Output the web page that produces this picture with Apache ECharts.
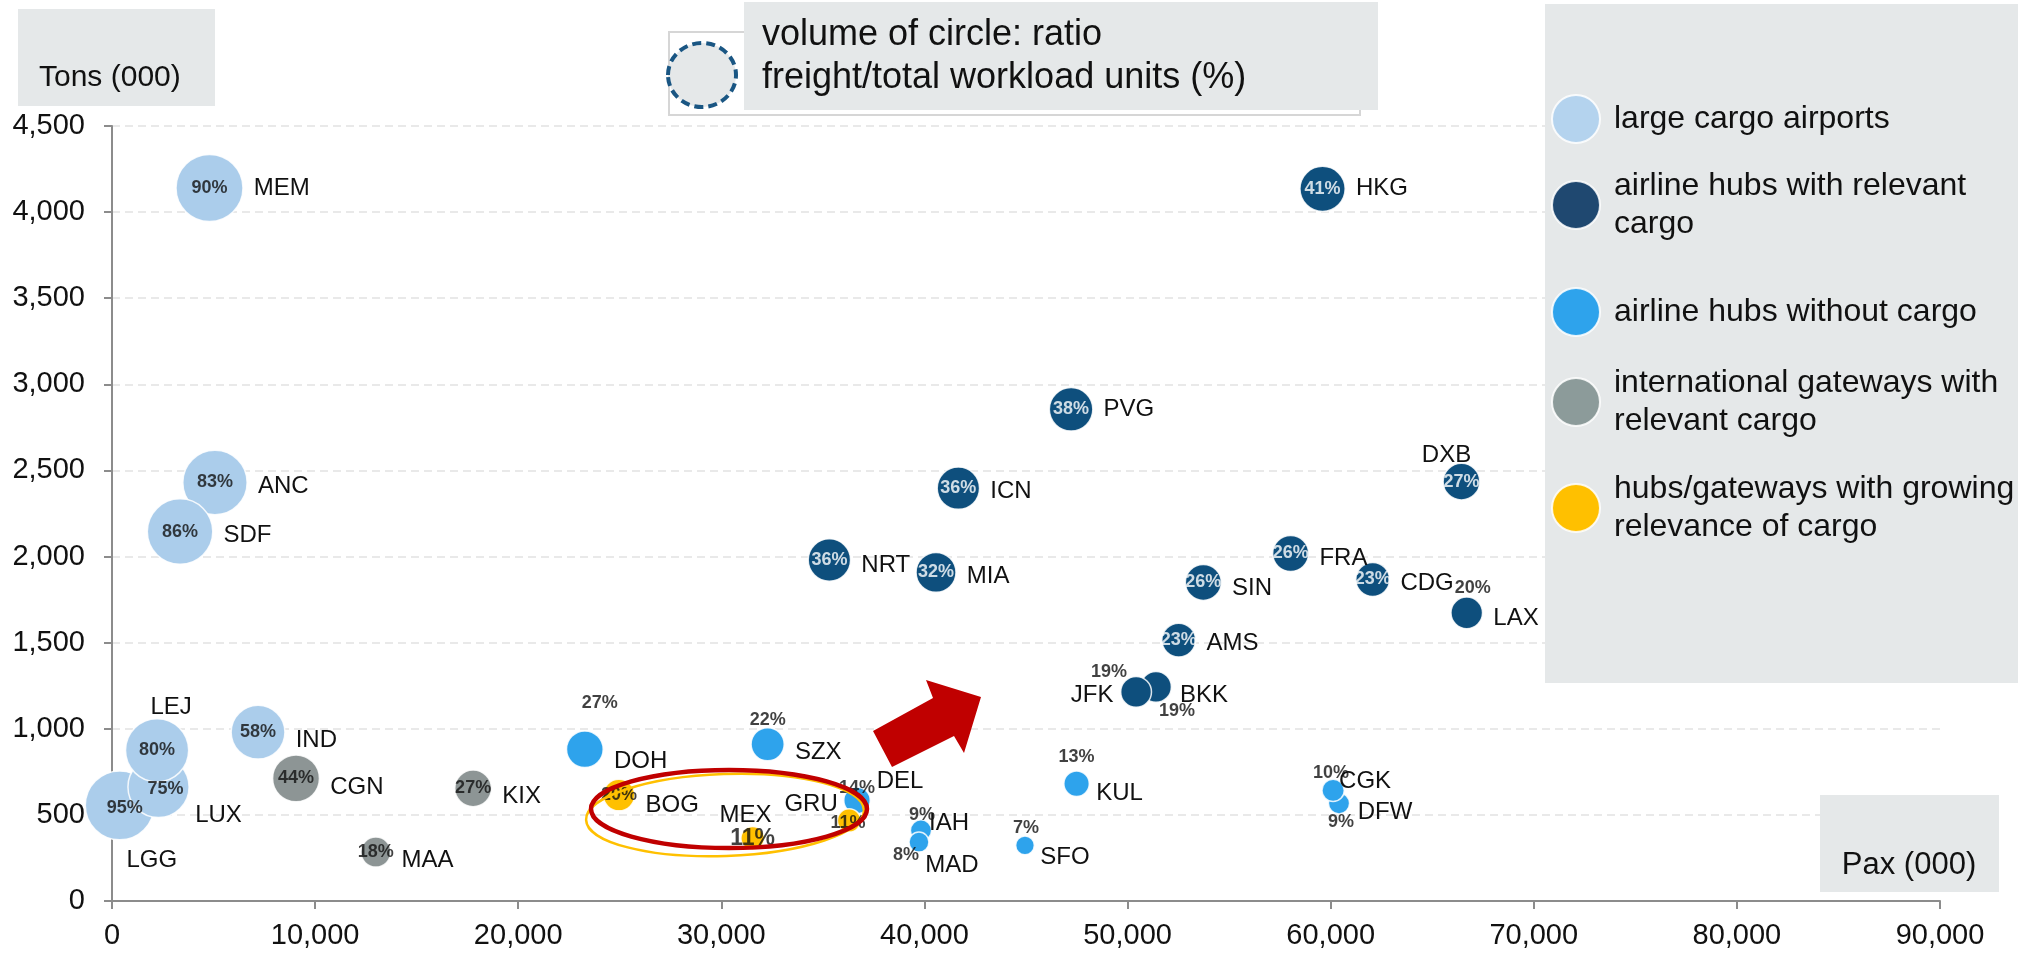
<!DOCTYPE html>
<html>
<head>
<meta charset="utf-8">
<script src="https://cdn.jsdelivr.net/npm/echarts@6/dist/echarts.min.js"></script>
<style>
  html, body { margin: 0; padding: 0; background: #fff; }
  #main { width: 2018px; height: 955px; }
</style>
</head>
<body>
<div id="main"></div>
<script>
var FONT = '"Liberation Sans", Arial, sans-serif'

// airport groups (legend order)
var groups = [
  'large cargo airports',
  'airline hubs with relevant cargo',
  'airline hubs without cargo',
  'international gateways with relevant cargo',
  'hubs/gateways with growing relevance of cargo'
]

// [airport, pax (000), tons (000), freight share of workload units %]
var largeCargo = [
  ['MEM', 4800, 4140, 90],
  ['ANC', 5070, 2430, 83],
  ['SDF', 3350, 2145, 86],
  ['LGG', 380, 555, 95],
  ['LUX', 2290, 662, 75],
  ['LEJ', 2220, 875, 80],
  ['IND', 7190, 980, 58]
]
var hubsCargo = [
  ['HKG', 59600, 4135, 41],
  ['PVG', 47220, 2855, 38],
  ['ICN', 41670, 2397, 36],
  ['NRT', 35320, 1980, 36],
  ['MIA', 40570, 1908, 32],
  ['DXB', 66440, 2435, 27],
  ['FRA', 58030, 2018, 26],
  ['SIN', 53730, 1850, 26],
  ['CDG', 62070, 1867, 23],
  ['LAX', 66700, 1673, 20],
  ['AMS', 52520, 1515, 23],
  ['BKK', 51400, 1243, 19],
  ['JFK', 50420, 1214, 19]
]
var hubsNoCargo = [
  ['DOH', 23280, 881, 27],
  ['SZX', 32280, 910, 22],
  ['DEL', 36680, 584, 14],
  ['IAH', 39830, 410, 9],
  ['MAD', 39730, 342, 8],
  ['SFO', 44950, 323, 7],
  ['KUL', 47490, 681, 13],
  ['DFW', 60410, 567, 9],
  ['CGK', 60120, 642, 10]
]
var gateways = [
  ['CGN', 9060, 712, 44],
  ['MAA', 12990, 284, 18],
  ['KIX', 17780, 654, 27]
]
var growing = [
  ['BOG', 24960, 615, 20],
  ['MEX', 31540, 364, 11],
  ['GRU', 36290, 468, 11]
]
var groupRows = [largeCargo, hubsCargo, hubsNoCargo, gateways, growing]

var colors = ['#abcdeb', '#0e4f7d', '#2ea3ec', '#8d9595', '#ffc000']
var legendColors = ['#b4d3ee', '#1f4870', '#2ea3ec', '#8c9b9a', '#ffc000']
var legendText = {
  'airline hubs with relevant cargo': 'airline hubs with relevant\ncargo',
  'international gateways with relevant cargo': 'international gateways with\nrelevant cargo',
  'hubs/gateways with growing relevance of cargo': 'hubs/gateways with growing\nrelevance of cargo'
}
var legendTops = [94, 167, 287, 364, 470]

// name labels: offset of label centre from bubble centre (others sit right of bubble)
var namePlace = {
  LEJ: [14, -43], LUX: [60, 28], LGG: [32, 55], DXB: [-15, -26],
  JFK: [-44, 3], BKK: [48, 8], DEL: [43, -19], IAH: [28, -7], MAD: [33, 23],
  SFO: [40, 12], KUL: [43, 10], CGK: [32, -9], DFW: [46, 9], MEX: [-7, -23], GRU: [-38, -16]
}
// vertical nudge for names on the right
var nameShift = {
  ANC: 4, SDF: 4, IND: 8, ICN: 3, NRT: 5, MIA: 4, FRA: 5, SIN: 6, CDG: 4, LAX: 6, AMS: 3,
  DOH: 12, SZX: 8, CGN: 9, KIX: 8, MAA: 8, BOG: 10
}
// % labels not centred in the bubble
var pctPlace = {
  LUX: [7, 2], LGG: [5, 3], LAX: [6, -25], JFK: [-27, -20], BKK: [21, 24],
  DOH: [15, -46], SZX: [0, -24], DEL: [0, -12], IAH: [1, -15], MAD: [-13, 13],
  SFO: [1, -17], KUL: [0, -27], CGK: [-2, -17], DFW: [2, 19], GRU: [-1, 3]
}
var pctOutside = ['LAX', 'JFK', 'BKK']

function bubbleSize (v) {
  return 7.06 * Math.sqrt(v[2])
}

var series = []
groupRows.forEach(function (rows, gi) {
  series.push({
    name: groups[gi],
    type: 'scatter',
    z: 2,
    symbolSize: bubbleSize,
    itemStyle: { color: colors[gi], opacity: 1, borderColor: 'rgba(255,255,255,0.85)', borderWidth: 1.5 },
    label: {
      show: true, position: 'right', distance: 10, formatter: '{b}',
      color: '#111', fontSize: 24, fontFamily: FONT, textBorderWidth: 0
    },
    emphasis: { disabled: true },
    data: rows.map(function (r) {
      var item = { name: r[0], value: [r[1], r[2], r[3]] }
      if (namePlace[r[0]]) item.label = { position: 'inside', offset: namePlace[r[0]] }
      else if (nameShift[r[0]]) item.label = { offset: [0, nameShift[r[0]]] }
      return item
    })
  })
})
// percentage labels on top of the bubbles
groupRows.forEach(function (rows, gi) {
  series.push({
    name: 'pct' + gi,
    type: 'scatter',
    z: 3,
    silent: true,
    symbolSize: bubbleSize,
    itemStyle: { color: 'rgba(0,0,0,0)' },
    label: {
      show: true, position: 'inside', fontSize: 18, fontWeight: 'bold', fontFamily: FONT,
      color: gi === 1 ? '#fff' : '#111', textBorderWidth: 0, textBorderColor: 'transparent',
      formatter: function (p) { return p.value[2] + '%' }
    },
    emphasis: { disabled: true },
    data: rows.map(function (r) {
      var item = { name: r[0], value: [r[1], r[2], r[3]], label: {} }
      if (pctPlace[r[0]]) item.label.offset = pctPlace[r[0]]
      if (pctOutside.indexOf(r[0]) >= 0) item.label.color = '#111'
      if (r[0] === 'MEX') item.label.fontSize = 23
      return item
    })
  })
})

var boxFill = '#e5e8e9'
var graphic = [
  { type: 'rect', z: 10, shape: { x: 18, y: 9, width: 197, height: 97 }, style: { fill: boxFill } },
  { type: 'text', z: 11, x: 39, y: 78, style: { text: 'Tons (000)', font: '30px ' + FONT, fill: '#111', verticalAlign: 'middle' } },
  { type: 'rect', z: 10, shape: { x: 669, y: 32, width: 691, height: 83 }, style: { fill: '#fff', stroke: '#d6d6d6', lineWidth: 2 } },
  { type: 'rect', z: 11, shape: { x: 744, y: 2, width: 634, height: 108 }, style: { fill: boxFill } },
  { type: 'ellipse', z: 12, shape: { cx: 702, cy: 75, rx: 34, ry: 32 }, style: { fill: boxFill, stroke: '#1a5683', lineWidth: 4, lineDash: [9, 5] } },
  { type: 'text', z: 12, x: 762, y: 35, style: { text: 'volume of circle: ratio', font: '36px ' + FONT, fill: '#111', verticalAlign: 'middle' } },
  { type: 'text', z: 12, x: 762, y: 78, style: { text: 'freight/total workload units (%)', font: '36px ' + FONT, fill: '#111', verticalAlign: 'middle' } },
  { type: 'rect', z: 10, shape: { x: 1545, y: 4, width: 473, height: 679 }, style: { fill: boxFill } },
  { type: 'rect', z: 10, shape: { x: 1820, y: 795, width: 179, height: 97 }, style: { fill: boxFill } },
  { type: 'text', z: 11, x: 1909, y: 865, style: { text: 'Pax (000)', font: '31px ' + FONT, fill: '#111', align: 'center', verticalAlign: 'middle' } },
  {
    type: 'polygon', z: 20,
    shape: { points: [[873, 731], [933, 698], [926, 680], [981, 697], [964, 753], [954, 736], [892, 767]] },
    style: { fill: '#c00000' }
  },
  { type: 'ellipse', z: 20, x: 725, y: 815, rotation: 0.035, shape: { cx: 0, cy: 0, rx: 139, ry: 41 }, style: { fill: 'none', stroke: '#ffc000', lineWidth: 2.5 } },
  { type: 'ellipse', z: 21, shape: { cx: 729, cy: 809, rx: 138, ry: 39 }, style: { fill: 'none', stroke: '#c00000', lineWidth: 4.5 } }
]

var chart = echarts.init(document.getElementById('main'), null, { renderer: 'canvas' })
chart.setOption({
  animation: false,
  backgroundColor: '#fff',
  textStyle: { fontFamily: FONT },
  grid: { left: 112, right: 78, top: 126, bottom: 54 },
  xAxis: {
    type: 'value', min: 0, max: 90000, interval: 10000,
    axisLine: { show: true, lineStyle: { color: '#8c8c8c', width: 2 } },
    axisTick: { show: true, length: 8, lineStyle: { color: '#8c8c8c', width: 2 } },
    axisLabel: { fontSize: 29, color: '#111', margin: 20, formatter: function (v) { return v.toLocaleString('en-US') } },
    splitLine: { show: false }
  },
  yAxis: {
    type: 'value', min: 0, max: 4500, interval: 500,
    axisLine: { show: true, lineStyle: { color: '#8c8c8c', width: 2 } },
    axisTick: { show: true, length: 8, lineStyle: { color: '#8c8c8c', width: 2 } },
    axisLabel: { fontSize: 29, color: '#111', margin: 27, formatter: function (v) { return v.toLocaleString('en-US') } },
    splitLine: { show: true, lineStyle: { color: '#e2e2e2', width: 1.5, type: [8, 5] } }
  },
  legend: groups.map(function (g, i) {
    return {
      data: [{ name: g, itemStyle: { color: legendColors[i] } }],
      orient: 'vertical',
      left: 1551,
      top: legendTops[i],
      padding: 0,
      itemWidth: 48,
      itemHeight: 48,
      icon: 'circle',
      z: 20,
      selectedMode: false,
      formatter: function (n) { return legendText[n] || n },
      textStyle: { fontSize: 32, lineHeight: 38, color: '#111', fontFamily: FONT, padding: [0, 0, 0, 9] }
    }
  }),
  graphic: graphic,
  series: series
})
</script>
</body>
</html>
